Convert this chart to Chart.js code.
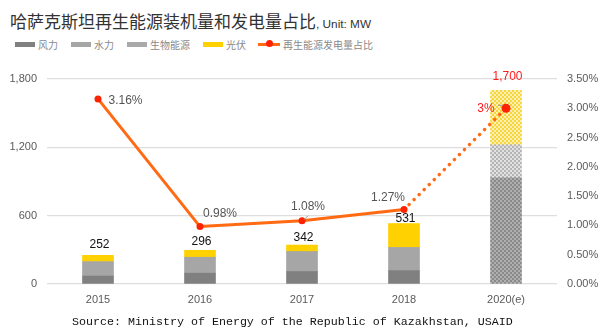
<!DOCTYPE html>
<html><head><meta charset="utf-8">
<script src="https://cdn.jsdelivr.net/npm/chart.js@4.4.1/dist/chart.umd.min.js"></script>
<style>
html,body{margin:0;padding:0;background:#fff;}
body{width:613px;height:333px;overflow:hidden;position:relative;}
#title{position:absolute;left:10px;top:12px;font-family:"Noto Sans CJK SC";font-size:17px;line-height:18px;color:#333;white-space:nowrap;}
#title span{font-family:"Liberation Sans";font-size:11.8px;}
.lg{position:absolute;top:36px;height:16px;display:flex;align-items:center;font-family:"Noto Sans CJK SC";font-size:10px;color:#8a8a8a;white-space:nowrap;}
.lg .bx{width:20px;height:5px;margin-right:3px;}
.lg .ln{position:relative;width:22px;height:3px;background:#FF6A13;margin-right:3px;}
.lg .ln i{position:absolute;left:7.5px;top:-2.5px;width:7px;height:7px;border-radius:50%;background:#FF2200;}
#src{position:absolute;left:72px;top:315px;font-family:"Liberation Mono";font-size:11.67px;line-height:14px;color:#111;white-space:nowrap;}
#c{position:absolute;left:0;top:0;}
</style></head>
<body>
<div id="title">哈萨克斯坦再生能源装机量和发电量占比<span>, Unit: MW</span></div>
<div class="lg" style="left:15px"><div class="bx" style="background:#808080"></div>风力</div>
<div class="lg" style="left:71px"><div class="bx" style="background:#a6a6a6"></div>水力</div>
<div class="lg" style="left:127px"><div class="bx" style="background:#a9a9a9"></div>生物能源</div>
<div class="lg" style="left:203px"><div class="bx" style="background:#FFD100"></div>光伏</div>
<div class="lg" style="left:258px"><div class="ln"><i></i></div>再生能源发电量占比</div>
<canvas id="c" width="613" height="333"></canvas>
<div id="src">Source: Ministry of Energy of the Republic of Kazakhstan, USAID</div>
<script>
const categories = ['2015', '2016', '2017', '2018', '2020(e)'];
const wind  = [70, 95, 110, 118, 933];
const hydro = [124, 139, 173, 200, 285];
const bio   = [1, 1, 1, 2, 5];
const solar = [57, 61, 58, 211, 477];
const totalLabels = ['252', '296', '342', '531', '1,700'];
const share = [3.16, 0.98, 1.08, 1.27, 3];
const shareLabels = ['3.16%', '0.98%', '1.08%', '1.27%', '3%'];
const leftTicks = [0, 600, 1200, 1800];
const rightTicks = [0, 0.5, 1, 1.5, 2, 2.5, 3, 3.5];

function makePattern(base, dot) {
  const t = document.createElement('canvas');
  t.width = 4; t.height = 4;
  const g = t.getContext('2d');
  g.fillStyle = base; g.fillRect(0, 0, 4, 4);
  g.fillStyle = dot;
  g.beginPath(); g.arc(1, 1, 0.9, 0, Math.PI * 2); g.fill();
  g.beginPath(); g.arc(3, 3, 0.9, 0, Math.PI * 2); g.fill();
  return document.getElementById('c').getContext('2d').createPattern(t, 'repeat');
}
const patWind = makePattern('#8a8a8a', 'rgba(200,200,200,0.9)');
const patHydro = makePattern('#b4b4b4', 'rgba(255,255,255,0.9)');
const patSolar = makePattern('#F6D63A', 'rgba(255,255,255,0.9)');
const estIndex = 4;
function fill(solid, pat) {
  return (ctx) => ctx.dataIndex === estIndex ? pat : solid;
}

const labelPlugin = {
  id: 'labels',
  afterDatasetsDraw(chart, args, opts) {
    const g = chart.ctx;
    g.save();
    const topMeta = chart.getDatasetMeta(3);
    g.textAlign = 'center';
    g.textBaseline = 'middle';
    topMeta.data.forEach((el, i) => {
      g.font = '12px "Liberation Sans"';
      g.fillStyle = i === estIndex ? '#FF1A1A' : '#111';
      g.fillText(totalLabels[i], el.x + 1.5, el.y + opts.totalDy[i]);
    });
    const lineMeta = chart.getDatasetMeta(4);
    lineMeta.data.forEach((el, i) => {
      const o = opts.pctOff[i];
      if (o.lead) {
        g.strokeStyle = '#999'; g.lineWidth = 1;
        g.beginPath();
        g.moveTo(el.x + o.lead[0], el.y + o.lead[1]);
        g.lineTo(el.x + o.lead[2], el.y + o.lead[3]);
        g.stroke();
      }
      g.font = '12px "Liberation Sans"';
      g.fillStyle = i === estIndex ? '#FF1A1A' : '#555';
      g.fillText(shareLabels[i], el.x + o.dx, el.y + o.dy);
    });
    g.restore();
  }
};

new Chart(document.getElementById('c'), {
  data: {
    labels: categories,
    datasets: [
      { type: 'bar', label: '风力', data: wind, backgroundColor: fill('#808080', patWind), yAxisID: 'y', order: 1 },
      { type: 'bar', label: '水力', data: hydro, backgroundColor: fill('#a6a6a6', patHydro), yAxisID: 'y', order: 1 },
      { type: 'bar', label: '生物能源', data: bio, backgroundColor: fill('#a9a9a9', patHydro), yAxisID: 'y', order: 1 },
      { type: 'bar', label: '光伏', data: solar, backgroundColor: fill('#FFD100', patSolar), yAxisID: 'y', order: 1 },
      { type: 'line', label: '再生能源发电量占比', data: share, yAxisID: 'y2', order: 0,
        borderColor: '#FF6A13', borderWidth: 3, borderCapStyle: 'round', borderJoinStyle: 'round',
        pointRadius: [3.5, 3.5, 3.5, 3.5, 4.5], pointBorderWidth: 0,
        pointBackgroundColor: '#FF2200', pointBorderColor: '#FF2200', tension: 0,
        segment: { borderDash: (ctx) => ctx.p0DataIndex === 3 ? [0.1, 7] : undefined,
                   borderWidth: (ctx) => ctx.p0DataIndex === 3 ? 3.5 : 3 } }
    ]
  },
  options: {
    responsive: false,
    animation: false,
    devicePixelRatio: 1,
    layout: { padding: { top: 79, left: 0, right: 0, bottom: 0 } },
    datasets: { bar: { barThickness: 31 } },
    plugins: {
      legend: { display: false },
      title: { display: false },
      tooltip: { enabled: false },
      labels: {
        totalDy: [-11, -9, -7, -5, -14],
        pctOff: [
          { dx: 27.5, dy: 1.5 },
          { dx: 20, dy: -13 },
          { dx: 6, dy: -14, lead: [2, -1, 6, -5] },
          { dx: -16, dy: -11.5 },
          { dx: -20, dy: 0, lead: [-8, -3, -3, -3] }
        ]
      }
    },
    scales: {
      x: {
        stacked: true, offset: true,
        grid: { display: false, drawTicks: false }, border: { display: false },
        ticks: { color: '#5a5a5a', font: { family: 'Liberation Sans', size: 11 }, padding: 9 },
        afterFit: (s) => { s.height = 49; }
      },
      y: {
        stacked: true, position: 'left', min: 0, max: 1800,
        afterBuildTicks: (s) => { s.ticks = leftTicks.map(v => ({ value: v })); },
        grid: { color: '#dedede', lineWidth: 1.2, drawTicks: false }, border: { display: false },
        ticks: { color: '#5a5a5a', font: { family: 'Liberation Sans', size: 11 }, padding: 10,
                 callback: (v) => v.toLocaleString('en-US') },
        afterFit: (s) => { s.width = 47; }
      },
      y2: {
        position: 'right', min: 0, max: 3.5,
        afterBuildTicks: (s) => { s.ticks = rightTicks.map(v => ({ value: v })); },
        grid: { display: false, drawTicks: false }, border: { display: false },
        ticks: { color: '#5a5a5a', font: { family: 'Liberation Sans', size: 11 }, padding: 10,
                 callback: (v) => v.toFixed(2) + '%' },
        afterFit: (s) => { s.width = 56; }
      }
    }
  },
  plugins: [labelPlugin]
});
</script>
</body></html>
